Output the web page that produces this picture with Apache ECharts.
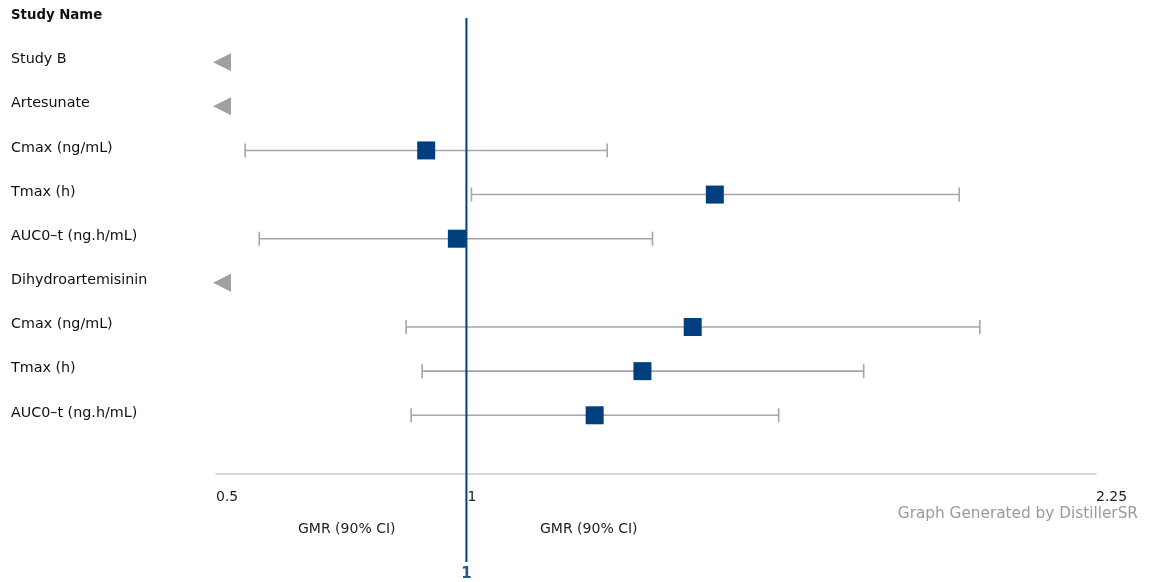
<!DOCTYPE html>
<html>
<head>
<meta charset="utf-8">
<title>GMR forest plot</title>
<script src="https://cdn.jsdelivr.net/npm/echarts@6/dist/echarts.min.js"></script>
<style>
  html, body { margin: 0; padding: 0; background: #ffffff; }
  #chart { width: 1152px; height: 582px; }
</style>
</head>
<body>
<div id="chart"></div>
<script>
// Row labels, top to bottom (row 0 is the column header)
const rowLabels = [
  'Study Name', 'Study B', 'Artesunate',
  'Cmax (ng/mL)', 'Tmax (h)', 'AUC0\u2013t (ng.h/mL)',
  'Dihydroartemisinin',
  'Cmax (ng/mL)', 'Tmax (h)', 'AUC0\u2013t (ng.h/mL)'
];
// Rows that group the outcomes beneath them
const groupRows = [1, 2, 6];
// Geometric mean ratio with 90% confidence interval for each outcome row
const gmr   = [null, null, null, 0.918, 1.492, 0.979, null, 1.448, 1.348, 1.253];
const lower = [null, null, null, 0.558, 1.008, 0.586, null, 0.878, 0.910, 0.888];
const upper = [null, null, null, 1.278, 1.978, 1.368, null, 2.019, 1.788, 1.619];
// Axis labels and line of no effect
const xTicks = [0.5, 1, 2.25];
const xMin = 0.5, xMax = 2.25;
const refValue = 1;

const FONT = 'DejaVu Sans';
const BLUE = '#003f7d';
const GREY = '#a6a6a6';

const ciData = [], pointData = [], groupData = [];
for (let i = 0; i < rowLabels.length; i++) {
  if (gmr[i] != null) {
    ciData.push([lower[i], upper[i], i]);
    pointData.push([gmr[i], i]);
  }
}
groupRows.forEach(r => groupData.push([xMin, r]));

const chart = echarts.init(document.getElementById('chart'));
chart.setOption({
  animation: false,
  backgroundColor: '#ffffff',
  textStyle: { fontFamily: FONT },
  grid: { left: 216, right: 56, top: 18, bottom: 108, containLabel: false },
  xAxis: {
    type: 'value', min: xMin, max: xMax, position: 'bottom',
    axisLine: { show: true, onZero: false, lineStyle: { color: '#cccccc', width: 1.5 } },
    axisTick: { show: false },
    splitLine: { show: false },
    axisLabel: {
      customValues: xTicks, showMinLabel: true, showMaxLabel: true,
      color: '#222', fontSize: 14, fontFamily: FONT, align: 'left', margin: 16,
      formatter: v => String(v)
    }
  },
  yAxis: {
    type: 'value', inverse: true, min: 0, max: 10.33, interval: 1,
    axisLine: { show: false }, axisTick: { show: false }, splitLine: { show: false },
    axisLabel: {
      align: 'left', margin: 205, color: '#111', fontSize: 14.3, fontFamily: FONT,
      padding: [0, 0, 5, 0],
      showMaxLabel: false,
      formatter: v => {
        if (Math.abs(v - Math.round(v)) > 1e-6) return '';
        const i = Math.round(v);
        if (i < 0 || i >= rowLabels.length) return '';
        return i === 0 ? '{h|' + rowLabels[i] + '}' : rowLabels[i];
      },
      rich: { h: { fontWeight: 'bold', fontSize: 13.3, fontFamily: FONT, color: '#111' } }
    }
  },
  series: [
    {
      // confidence interval whiskers with end caps
      type: 'custom',
      data: ciData,
      encode: { x: [0, 1], y: 2 },
      z: 2,
      renderItem: (params, api) => {
        const a = api.coord([api.value(0), api.value(2)]);
        const b = api.coord([api.value(1), api.value(2)]);
        const cap = 7;
        const style = { stroke: GREY, lineWidth: 1.6, fill: null };
        return {
          type: 'group',
          children: [
            { type: 'line', shape: { x1: a[0], y1: a[1], x2: b[0], y2: b[1] }, style },
            { type: 'line', shape: { x1: a[0], y1: a[1] - cap, x2: a[0], y2: a[1] + cap }, style },
            { type: 'line', shape: { x1: b[0], y1: b[1] - cap, x2: b[0], y2: b[1] + cap }, style }
          ]
        };
      }
    },
    {
      type: 'scatter',
      data: pointData,
      symbol: 'rect', symbolSize: 18,
      itemStyle: { color: BLUE, opacity: 1 },
      z: 3
    },
    {
      type: 'scatter',
      data: groupData,
      symbol: 'triangle', symbolRotate: 90, symbolSize: [18, 18], symbolOffset: [6, 0],
      itemStyle: { color: '#a0a0a0', opacity: 1 },
      z: 3
    },
    {
      // line of no effect, extended below the axis to its label
      type: 'custom',
      data: [[refValue]],
      encode: { x: 0 },
      clip: false,
      z: 4,
      renderItem: (params, api) => {
        const top = api.coord([api.value(0), 0]);
        const x = top[0] - 1;
        return {
          type: 'group',
          children: [
            { type: 'line', shape: { x1: x, y1: top[1], x2: x, y2: top[1] + 544 },
              style: { stroke: BLUE, lineWidth: 2 } },
            { type: 'text', x: x, y: top[1] + 556,
              style: { text: String(api.value(0)), fill: '#1f5a94', font: 'bold 15px "' + FONT + '"',
                       align: 'center', verticalAlign: 'middle' } }
          ]
        };
      }
    }
  ],
  graphic: [
    { type: 'text', left: 298, top: 522, style: { text: 'GMR (90% CI)', fill: '#222', font: '14px "' + FONT + '"' } },
    { type: 'text', left: 540, top: 522, style: { text: 'GMR (90% CI)', fill: '#222', font: '14px "' + FONT + '"' } },
    { type: 'text', right: 14, top: 507, style: { text: 'Graph Generated by DistillerSR', fill: '#9a9a9a', font: '15.3px "' + FONT + '"' } }
  ]
});
</script>
</body>
</html>
